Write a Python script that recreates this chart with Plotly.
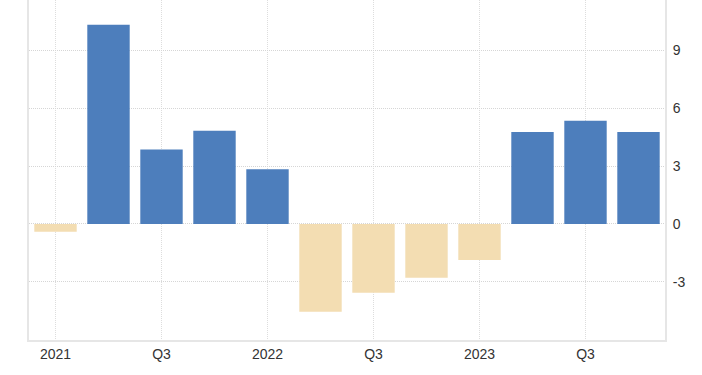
import plotly.graph_objects as go

quarters = ["2021 Q1", "2021 Q2", "2021 Q3", "2021 Q4",
            "2022 Q1", "2022 Q2", "2022 Q3", "2022 Q4",
            "2023 Q1", "2023 Q2", "2023 Q3", "2023 Q4"]
values = [-0.4, 10.33, 3.86, 4.84, 2.84, -4.55, -3.57, -2.79, -1.87, 4.77, 5.35, 4.77]
tick_positions = ["2021 Q1", "2021 Q3", "2022 Q1", "2022 Q3", "2023 Q1", "2023 Q3"]
tick_labels = ["2021", "Q3", "2022", "Q3", "2023", "Q3"]
y_ticks = [-3, 0, 3, 6, 9]

POS = "#4d7ebc"
NEG = "#f3ddb2"
colors = [POS if v >= 0 else NEG for v in values]

fig = go.Figure(go.Bar(x=quarters, y=values, marker=dict(color=colors, line=dict(width=0)),
                       hoverinfo="x+y"))

fig.update_layout(
    width=702, height=375,
    margin=dict(l=29, r=37, t=0, b=35),
    paper_bgcolor="white", plot_bgcolor="white",
    bargap=0.2, showlegend=False,
    font=dict(family="Arial, Liberation Sans, sans-serif", size=14, color="#333333"),
)
fig.update_xaxes(
    type="category", categoryorder="array", categoryarray=quarters,
    tickmode="array", tickvals=tick_positions, ticktext=tick_labels,
    showgrid=True, gridcolor="#dddddd", griddash="1px,1px", gridwidth=1,
    showline=True, linecolor="#e6e6e6", linewidth=2,
    ticks="", ticklabelstandoff=0,
    range=[-0.5, 11.5],
)
fig.update_yaxes(
    side="right", range=[-6.02, 11.62],
    tickmode="array", tickvals=y_ticks, ticktext=[str(t) for t in y_ticks],
    showgrid=True, gridcolor="#d6d6d6", griddash="1px,1px", gridwidth=1,
    zeroline=False,
    showline=True, mirror=True, linecolor="#e6e6e6", linewidth=2,
    ticks="", ticklabelstandoff=3,
)

fig.write_html("out.html", config={"displayModeBar": False},
               post_script="document.body.style.margin='0';")
